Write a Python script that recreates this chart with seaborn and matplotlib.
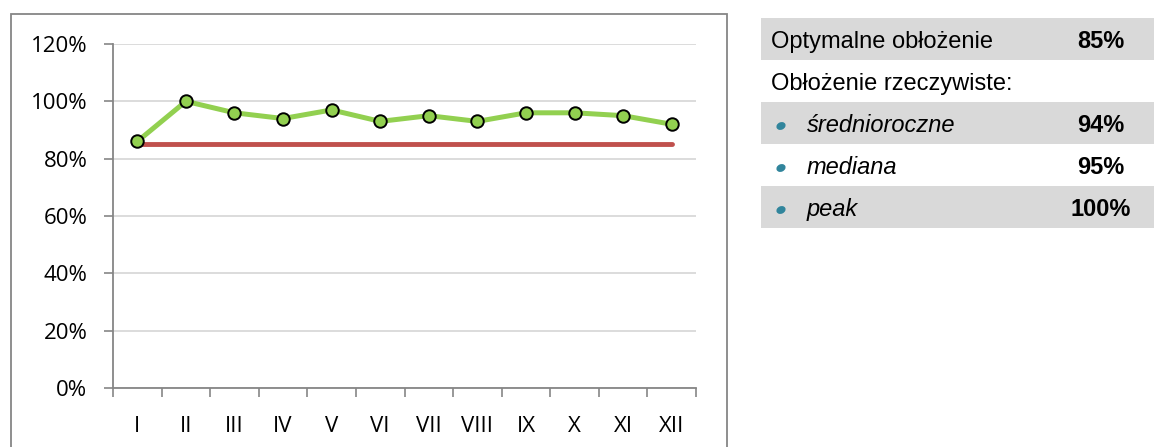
import matplotlib
matplotlib.use("Agg")
import matplotlib.pyplot as plt
import numpy as np
import pandas as pd
import seaborn as sns
from matplotlib.patches import Ellipse, Rectangle
from matplotlib.ticker import PercentFormatter
from matplotlib.transforms import IdentityTransform

months = ['I', 'II', 'III', 'IV', 'V', 'VI', 'VII', 'VIII', 'IX', 'X', 'XI', 'XII']
actual = [86, 100, 96, 94, 97, 93, 95, 93, 96, 96, 95, 92]
optimal = [85] * 12

table_labels = ['Optymalne obłożenie', 'Obłożenie rzeczywiste:', 'średnioroczne', 'mediana', 'peak']
table_values = ['85%', '', '94%', '95%', '100%']

sns.set_style('white')
plt.rcParams['font.family'] = ['Open Sans', 'DejaVu Sans']
plt.rcParams['text.color'] = 'black'
plt.rcParams['xtick.color'] = 'black'
plt.rcParams['ytick.color'] = 'black'

df = pd.DataFrame({'month': months, 'pos': np.arange(len(months)),
                   'actual': actual, 'optimal': optimal})

W, H = 1154, 447
fig = plt.figure(figsize = (W / 100, H / 100), dpi = 100)

# outer chart frame
fig.patches.append(Rectangle((11 / W, -0.05), (727 - 11) / W, 1 - 14 / H + 0.05,
                             transform = fig.transFigure, fill = False,
                             edgecolor = '#868686', linewidth = 1.3))

ax = fig.add_axes([113 / W, 1 - 388 / H, (696 - 113) / W, (388 - 44) / H])

sns.lineplot(data = df, x = 'pos', y = 'optimal', ax = ax, color = '#c0504d',
             linewidth = 3.5, zorder = 3)
sns.lineplot(data = df, x = 'pos', y = 'actual', ax = ax, color = '#92d050',
             linewidth = 3.6, marker = 'o', markersize = 9, markerfacecolor = '#92d050',
             markeredgecolor = 'black', markeredgewidth = 1.4, zorder = 4)

ax.set_xlim(-0.5, 11.5)
ax.set_ylim(0, 120)
ax.set_yticks(range(0, 121, 20))
ax.yaxis.set_major_formatter(PercentFormatter(decimals = 0))
ax.set_xticks(np.arange(-0.5, 12, 1))
ax.set_xticklabels([])
ax.set_xticks(np.arange(12), minor = True)
ax.set_xticklabels(months, minor = True)
ax.tick_params(axis = 'x', which = 'minor', bottom = False, pad = 18, labelsize = 16)
ax.tick_params(axis = 'x', which = 'major', bottom = True, length = 6.5, width = 1.2,
               color = '#868686', direction = 'out')
ax.tick_params(axis = 'y', left = True, length = 6.5, width = 1.2, color = '#868686',
               direction = 'out', labelsize = 16, pad = 12)
ax.grid(axis = 'y', color = '#d9d9d9', linewidth = 1.3)
ax.set_axisbelow(True)
ax.set_xlabel('')
ax.set_ylabel('')
for side in ['top', 'right']:
    ax.spines[side].set_visible(False)
for side in ['left', 'bottom']:
    ax.spines[side].set_color('#868686')
    ax.spines[side].set_linewidth(1.3)

# side table
row_top = 18
row_h = 42
txt_font = ['Liberation Sans', 'DejaVu Sans']
for i, (label, value) in enumerate(zip(table_labels, table_values)):
    y0 = row_top + i * row_h
    yb = 1 - (y0 + 30) / H
    if i in (0, 2, 4):
        fig.patches.append(Rectangle((761 / W, 1 - (y0 + row_h) / H), (W - 761) / W, row_h / H,
                                     transform = fig.transFigure, facecolor = '#d9d9d9',
                                     edgecolor = 'none', zorder = 0))
    if i < 2:
        fig.text(771 / W, yb, label, fontsize = 17, va = 'baseline', ha = 'left',
                 family = txt_font)
    else:
        # bullet, drawn in pixel coordinates
        fig.patches.append(Ellipse((781, H - (y0 + 24)), 9.5, 7.5, angle = 25,
                                   transform = IdentityTransform(), facecolor = '#31859c',
                                   edgecolor = 'none'))
        fig.text(807 / W, yb, label, fontsize = 17, va = 'baseline', ha = 'left',
                 style = 'italic', family = txt_font)
    if value:
        fig.text(1101 / W, yb, value, fontsize = 17, va = 'baseline', ha = 'center',
                 weight = 'bold', family = txt_font)

fig.savefig('out.png', dpi = 100)
